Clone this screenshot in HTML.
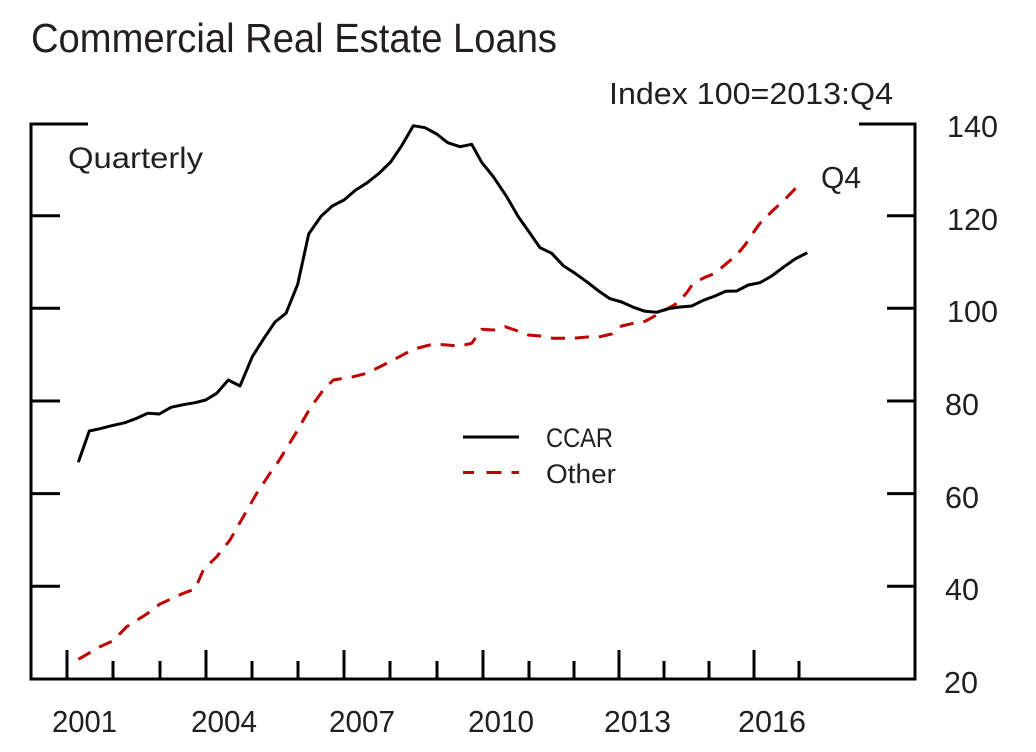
<!DOCTYPE html>
<html><head><meta charset="utf-8"><style>
html,body{margin:0;padding:0;background:#fff;}
svg{display:block;}
text{font-family:"Liberation Sans",Arial,sans-serif;fill:#231f20;}
</style></head><body>
<svg width="1036" height="752" viewBox="0 0 1036 752" xmlns="http://www.w3.org/2000/svg">
<rect width="1036" height="752" fill="#fff"/>
<text x="31" y="52" font-size="41" textLength="526" lengthAdjust="spacingAndGlyphs">Commercial Real Estate Loans</text>
<text x="609" y="104" font-size="31" textLength="284" lengthAdjust="spacingAndGlyphs">Index 100=2013:Q4</text>
<text x="68" y="168" font-size="30" textLength="135" lengthAdjust="spacingAndGlyphs">Quarterly</text>
<text x="821" y="188" font-size="31" textLength="40" lengthAdjust="spacingAndGlyphs">Q4</text>

<g stroke="#000" stroke-width="3" fill="none" stroke-linecap="butt">
<path d="M31,124 H88 M31,122.5 V680.5 M29.5,679 H916.5 M915,122.5 V680.5 M859,124 H915"/>
<path d="M31,215.7 H60 M31,308.3 H60 M31,401 H60 M31,493.6 H60 M31,586.3 H60"/>
<path d="M887,215.7 H915 M887,308.3 H915 M887,401 H915 M887,493.6 H915 M887,586.3 H915"/>
<path d="M67,650 V679 M206,650 V679 M344,650 V679 M483,650 V679 M619,650 V679 M754,650 V679"/>
<path d="M113,661 V679 M160,661 V679 M252,661 V679 M298,661 V679 M390,661 V679 M437,661 V679 M529,661 V679 M574,661 V679 M664,661 V679 M709,661 V679 M799,661 V679"/>
</g>

<g font-size="31">
<text x="947" y="137" textLength="51" lengthAdjust="spacingAndGlyphs">140</text>
<text x="947" y="230" textLength="51" lengthAdjust="spacingAndGlyphs">120</text>
<text x="947" y="322" textLength="51" lengthAdjust="spacingAndGlyphs">100</text>
<text x="945" y="415" textLength="34" lengthAdjust="spacingAndGlyphs">80</text>
<text x="945" y="508" textLength="34" lengthAdjust="spacingAndGlyphs">60</text>
<text x="945" y="600" textLength="34" lengthAdjust="spacingAndGlyphs">40</text>
<text x="944" y="693" textLength="34" lengthAdjust="spacingAndGlyphs">20</text>
</g>
<g font-size="31">
<text x="52" y="732" textLength="65" lengthAdjust="spacingAndGlyphs">2001</text>
<text x="191" y="732" textLength="66" lengthAdjust="spacingAndGlyphs">2004</text>
<text x="329" y="732" textLength="66" lengthAdjust="spacingAndGlyphs">2007</text>
<text x="468" y="732" textLength="66" lengthAdjust="spacingAndGlyphs">2010</text>
<text x="604" y="732" textLength="67" lengthAdjust="spacingAndGlyphs">2013</text>
<text x="738" y="732" textLength="68" lengthAdjust="spacingAndGlyphs">2016</text>
</g>

<polyline fill="none" stroke="#c00000" stroke-width="3" stroke-dasharray="14 10" stroke-linejoin="round" points="78.3,659.3 100,646.7 113.3,640.7 126.7,626.7 146.7,614 160,604 183.3,593.3 195,589 203.3,570 216.7,556.7 230,540 243.3,516.7 256.7,493.3 270,473.3 278.3,461.7 296.7,431.7 310,408.3 323.3,390 333.3,380 353.3,376.7 366.7,373.3 390,361.7 413.3,349.3 433.3,344 446.7,345 460,346 471.7,343.3 481.7,329.3 493.3,330 505,326.7 515,330 528.3,335 540,336 553.3,338.3 573.3,338.3 590,336.7 600,336.7 611.7,334 621.7,326 633.3,323.3 645,321.3 656.7,315 668.3,308.3 678.3,302.7 686.7,292.7 693.3,283.3 705,277.3 715,273.3 726.7,263.3 736.7,255 745,245 751.7,235 760,223.3 773.3,210 783.3,201 793.3,190.7 802.3,181"/>

<polyline fill="none" stroke="#000" stroke-width="3" stroke-linejoin="round" points="78.3,462.3 89.3,431 100,428.7 111.7,425.7 125,422.7 136.7,418.3 147.7,413.3 159.3,414 171,407.3 183.3,404.7 195,402.7 205.7,400 216.7,393.3 228.3,380 240,386 252.3,356.7 263.3,339.3 275,322 286,313.3 297.7,284.3 308.7,234 321,216.3 332.3,206 344,200 355.7,190 367.3,182.7 379,173.3 390.7,162 401.7,145.7 413.3,125.7 425,127.7 436.7,134 447.7,142.7 460,146.7 471.7,144.3 481.7,162.3 493.3,176.7 506.7,196.7 518.3,216.7 530,233.3 540,247.7 551.7,253.3 563.3,265.7 575,273.3 586.7,281.7 598.3,290.7 610,298.7 621.7,302 633.3,307.3 645,311.3 656.7,312.3 668.3,308.7 680,307 691.7,306 703.3,300.3 715,296 725.7,291.3 736.7,291 748.3,285 760,282.7 771.7,276 783.3,267.3 795,259 807.3,252.7"/>

<line x1="463" y1="437" x2="519" y2="437" stroke="#000" stroke-width="3"/>
<path d="M463,472.5 H474 M486.5,472.5 H501.5 M511.5,472.5 H519" stroke="#c00000" stroke-width="3" fill="none"/>
<text x="546" y="447" font-size="27" textLength="67" lengthAdjust="spacingAndGlyphs">CCAR</text>
<text x="546" y="483" font-size="27" textLength="70" lengthAdjust="spacingAndGlyphs">Other</text>
</svg>
</body></html>
